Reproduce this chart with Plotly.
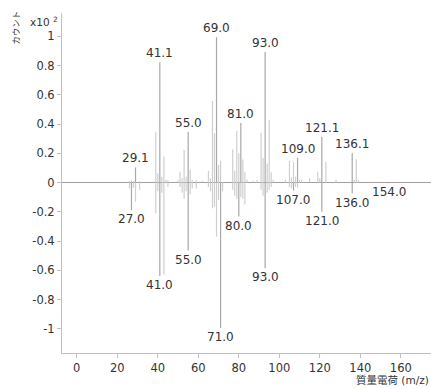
import plotly.graph_objects as go

# ---- data (intensity in units of x10^2 counts) ----
upper_mz = [26, 27, 28, 29, 31,
            39, 40, 41, 42, 43, 44, 45,
            50, 51, 52, 53, 54, 55, 56, 57, 59, 62,
            65, 66, 67, 68, 69, 70, 71,
            77, 78, 79, 80, 81, 82, 83, 84, 87, 89,
            91, 92, 93, 94, 95, 96, 97,
            103, 105, 106, 107, 108, 109, 110, 111,
            115, 119, 120, 121, 123, 128,
            136, 137, 138, 139]
upper_int = [0.01, 0.015, 0.01, 0.104, 0.01,
             0.347, 0.063, 0.823, 0.04, 0.178, 0.02, 0.015,
             0.015, 0.074, 0.03, 0.222, 0.04, 0.347, 0.09, 0.02, 0.015, 0.01,
             0.08, 0.03, 0.558, 0.337, 0.995, 0.12, 0.15,
             0.226, 0.08, 0.354, 0.2, 0.408, 0.158, 0.074, 0.02, 0.01, 0.02,
             0.34, 0.167, 0.893, 0.13, 0.427, 0.07, 0.02,
             0.02, 0.149, 0.035, 0.14, 0.04, 0.17, 0.02, 0.02,
             0.03, 0.074, 0.03, 0.313, 0.142, 0.02,
             0.2, 0.02, 0.158, 0.02]

lower_mz = [26, 27, 28, 29, 31,
            39, 40, 41, 42, 43, 45,
            51, 52, 53, 54, 55, 56, 57, 59,
            65, 66, 67, 68, 69, 70, 71, 72,
            77, 78, 79, 80, 81, 82, 83,
            91, 92, 93, 94, 95, 96,
            105, 106, 107, 108, 109,
            121, 136, 154]
lower_int = [-0.04, -0.188, -0.035, -0.13, -0.05,
             -0.21, -0.06, -0.64, -0.07, -0.63, -0.03,
             -0.03, -0.07, -0.11, -0.06, -0.465, -0.08, -0.04, -0.04,
             -0.03, -0.06, -0.176, -0.165, -0.37, -0.12, -0.995, -0.06,
             -0.05, -0.09, -0.11, -0.233, -0.1, -0.11, -0.15,
             -0.05, -0.09, -0.586, -0.07, -0.05, -0.03,
             -0.03, -0.04, -0.055, -0.03, -0.035,
             -0.2, -0.075, -0.004]

upper_labels_mz = [29, 41, 55, 69, 81, 93, 109, 121, 136]
upper_labels_txt = ["29.1", "41.1", "55.0", "69.0", "81.0", "93.0", "109.0", "121.1", "136.1"]
lower_labels_mz = [27, 41, 55, 71, 80, 93, 107, 121, 136, 154]
lower_labels_txt = ["27.0", "41.0", "55.0", "71.0", "80.0", "93.0", "107.0", "121.0", "136.0", "154.0"]

marker_mz = [41, 66.6, 69.2, 92.8, 95.0]
marker_colors = ["rgba(240,100,100,0.8)", "rgba(230,90,240,0.8)", "rgba(110,110,240,0.8)",
                 "rgba(110,170,90,0.8)", "rgba(170,180,90,0.8)"]

yticks = [-1, -0.8, -0.6, -0.4, -0.2, 0, 0.2, 0.4, 0.6, 0.8, 1]
yticktext = ["-1", "-0.8", "-0.6", "-0.4", "-0.2", "0", "0.2", "0.4", "0.6", "0.8", "1"]
xticks = [0, 20, 40, 60, 80, 100, 120, 140, 160]

XR = [-7.3, 174.9]
YR = [-1.166, 1.16]

FONT = "DejaVu Sans, Noto Sans CJK JP, sans-serif"


def stems(mzs, ints, keep):
    xs, ys = [], []
    for m, v in zip(mzs, ints):
        if keep(m):
            xs += [m, m, None]
            ys += [0, v, None]
    return xs, ys


fig = go.Figure()
labelled_up = set(upper_labels_mz)
labelled_lo = set(lower_labels_mz)

for mzs, ints, lab in [(upper_mz, upper_int, labelled_up), (lower_mz, lower_int, labelled_lo)]:
    x1, y1 = stems(mzs, ints, lambda m: m not in lab)
    fig.add_trace(go.Scatter(x=x1, y=y1, mode="lines",
                             line=dict(color="#cfcfcf", width=1.2), hoverinfo="skip"))
    x2, y2 = stems(mzs, ints, lambda m: m in lab)
    fig.add_trace(go.Scatter(x=x2, y=y2, mode="lines",
                             line=dict(color="#a8a8a8", width=1.2), hoverinfo="skip"))

# precursor markers at the bottom axis
fig.add_trace(go.Scatter(x=marker_mz, y=[YR[0] - 0.012] * len(marker_mz), mode="markers",
                         marker=dict(symbol="triangle-up", size=8, color=marker_colors,
                                     line=dict(width=0)),
                         cliponaxis=False, hoverinfo="skip"))

up_lookup = dict(zip(upper_mz, upper_int))
lo_lookup = dict(zip(lower_mz, lower_int))
for m, t in zip(upper_labels_mz, upper_labels_txt):
    fig.add_annotation(x=m, y=up_lookup[m], text=t, showarrow=False, yanchor="bottom",
                       yshift=0, font=dict(size=12, color="#333333", family=FONT))
for m, t in zip(lower_labels_mz, lower_labels_txt):
    fig.add_annotation(x=m, y=lo_lookup[m], text=t, showarrow=False, yanchor="top",
                       yshift=0, font=dict(size=12, color="#333333", family=FONT))

fig.add_annotation(xref="paper", yref="paper", x=-0.050, y=0.976, xanchor="center", yanchor="middle",
                   text="x10 <sup>2</sup>", showarrow=False,
                   font=dict(size=10.5, color="#333333", family=FONT))
fig.add_annotation(xref="paper", yref="paper", x=-0.1255, y=0.956, xanchor="center", yanchor="middle",
                   text="カウント", textangle=-90, showarrow=False,
                   font=dict(size=8.5, color="#333333", family=FONT))
fig.add_annotation(xref="paper", yref="paper", x=1.0, y=-0.079, xanchor="right", yanchor="middle",
                   text="質量電荷 (m/z)", showarrow=False,
                   font=dict(size=10.5, color="#333333", family=FONT))

fig.update_layout(
    width=431, height=389,
    margin=dict(l=62, r=0, t=13, b=36),
    paper_bgcolor="white", plot_bgcolor="white",
    showlegend=False,
    font=dict(family=FONT, size=11.5, color="#333333"),
    xaxis=dict(range=XR, tickvals=xticks, showgrid=False, zeroline=False,
               showline=True, linecolor="#c0c0c0", linewidth=1,
               ticks="outside", ticklen=4, tickcolor="#c0c0c0",
               tickfont=dict(size=11.5, color="#333333")),
    yaxis=dict(range=YR, tickvals=yticks, ticktext=yticktext, showgrid=False,
               zeroline=True, zerolinecolor="#a0a0a0", zerolinewidth=1,
               showline=True, linecolor="#c0c0c0", linewidth=1,
               ticks="outside", ticklen=4, tickcolor="#c0c0c0",
               tickfont=dict(size=11.5, color="#333333")),
)

fig.write_html("out.html")
